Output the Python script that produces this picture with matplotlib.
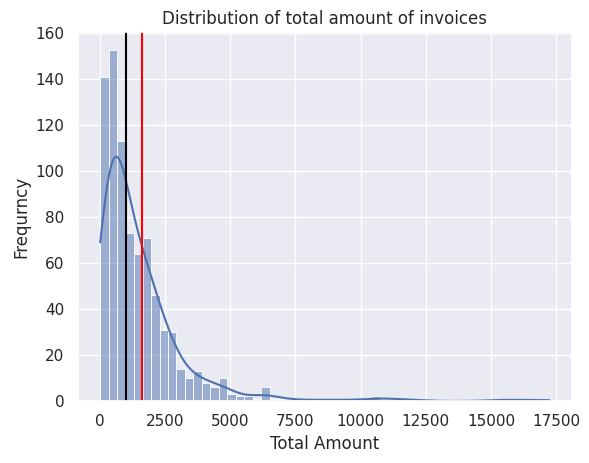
import numpy as np
import pandas as pd
import matplotlib
matplotlib.use("Agg")
import matplotlib.pyplot as plt
import seaborn as sns

# Histogram bins (total amount of invoices)
AMOUNT_MIN = 15.0
AMOUNT_MAX = 17240.0
N_BINS = 53

# Counts per bin
counts = [141, 153, 113, 73, 64, 71, 46, 31, 30, 14,
          10, 13, 8, 6, 10, 3, 2, 2, 1, 6,
          1, 1, 1, 0, 1, 0, 1, 0, 1, 0,
          1, 0, 2, 1, 1, 1, 0, 1, 0, 0,
          0, 0, 0, 0, 0, 0, 1, 0, 1, 0,
          1, 0, 1]

median_amount = 1019
mean_amount = 1630

title = "Distribution of total amount of invoices"
xlabel = "Total Amount"
ylabel = "Frequrncy"

sns.set_theme()

edges = np.linspace(AMOUNT_MIN, AMOUNT_MAX, N_BINS + 1)
centers = (edges[:-1] + edges[1:]) / 2
amounts = np.repeat(centers, counts)
amounts[0] = AMOUNT_MIN      # smallest invoice
amounts[-1] = AMOUNT_MAX     # largest invoice
df = pd.DataFrame({"Total Amount": amounts})

fig = plt.figure(figsize=(5.89, 4.63), dpi=100)
ax = fig.add_subplot(111)
fig.subplots_adjust(left=0.132, right=0.971, top=0.931, bottom=0.134)

sns.histplot(data=df, x="Total Amount", bins=list(edges), kde=True, ax=ax)
ax.axvline(median_amount, color="black")
ax.axvline(mean_amount, color="red")

ax.set_title(title)
ax.set_xlabel(xlabel)
ax.set_ylabel(ylabel)
ax.set_xticks([0, 2500, 5000, 7500, 10000, 12500, 15000, 17500])

fig.savefig("out.png", dpi=100)
